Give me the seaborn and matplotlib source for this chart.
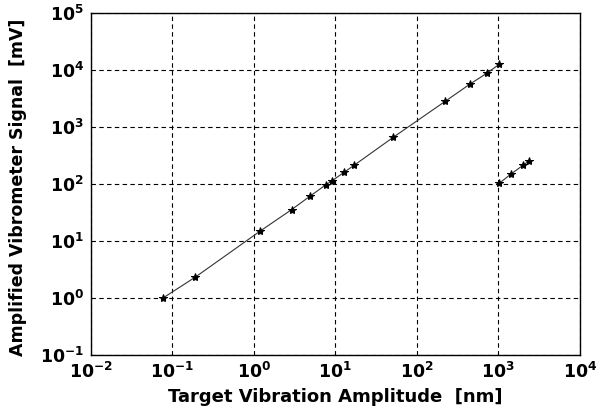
import math
import matplotlib
matplotlib.use("Agg")
import matplotlib.pyplot as plt
import matplotlib.ticker as mticker
import seaborn as sns
import pandas as pd

# Data
amp_low = [0.077, 0.19, 1.19, 2.9, 4.9, 7.7, 9.1, 12.9, 17.1, 51.4, 222, 448, 733, 1028]
sig_low = [1.0, 2.3, 14.8, 35.3, 61, 97, 113, 161, 213, 656, 2790, 5610, 8830, 12530]
amp_high = [1028, 1443, 2000, 2360]
sig_high = [102, 150, 210, 250]
x_ticks = [1e-2, 1e-1, 1e0, 1e1, 1e2, 1e3, 1e4]
y_ticks = [1e-1, 1e0, 1e1, 1e2, 1e3, 1e4, 1e5]

x_label = "Target Vibration Amplitude  [nm]"
y_label = "Amplified Vibrometer Signal  [mV]"

sns.set_theme(style="white")
plt.rcParams['font.family'] = ['DejaVu Sans']
plt.rcParams['text.color'] = 'black'
plt.rcParams['axes.labelcolor'] = 'black'
plt.rcParams['xtick.color'] = 'black'
plt.rcParams['ytick.color'] = 'black'

fig = plt.figure(figsize=(6.07, 4.15), dpi=100)
ax = fig.add_axes([0.150, 0.145, 0.805, 0.824])

df1 = pd.DataFrame({"x": amp_low, "y": sig_low})
df2 = pd.DataFrame({"x": amp_high, "y": sig_high})
for d in (df1, df2):
    sns.lineplot(data=d, x="x", y="y", ax=ax, color="#333333", linewidth=0.8,
                 marker="*", markersize=6, markerfacecolor="black",
                 markeredgecolor="black", sort=False)

ax.set_xscale("log")
ax.set_yscale("log")
ax.set_xlim(x_ticks[0], x_ticks[-1])
ax.set_ylim(y_ticks[0], y_ticks[-1])
ax.xaxis.set_major_locator(mticker.FixedLocator(x_ticks))
ax.yaxis.set_major_locator(mticker.FixedLocator(y_ticks))
ax.xaxis.set_minor_locator(mticker.NullLocator())
ax.yaxis.set_minor_locator(mticker.NullLocator())

fmt = mticker.FuncFormatter(lambda v, p: r"$\mathbf{10^{%d}}$" % round(math.log10(v)))
ax.xaxis.set_major_formatter(fmt)
ax.yaxis.set_major_formatter(fmt)
ax.tick_params(axis="both", labelsize=12.5, length=0)
ax.tick_params(axis="x", pad=5)
ax.tick_params(axis="y", pad=5)

ax.grid(True, which="major", color="black", linestyle=(0, (4, 3)), linewidth=0.8)
for s in ax.spines.values():
    s.set_color("black")
    s.set_linewidth(1.0)

ax.set_xlabel(x_label, fontsize=13, fontweight="bold")
ax.set_ylabel(y_label, fontsize=12.5, fontweight="bold")
ax.xaxis.set_label_coords(0.5, -0.097)
ax.yaxis.set_label_coords(-0.131, 0.49)

fig.savefig("out.png", dpi=100)
